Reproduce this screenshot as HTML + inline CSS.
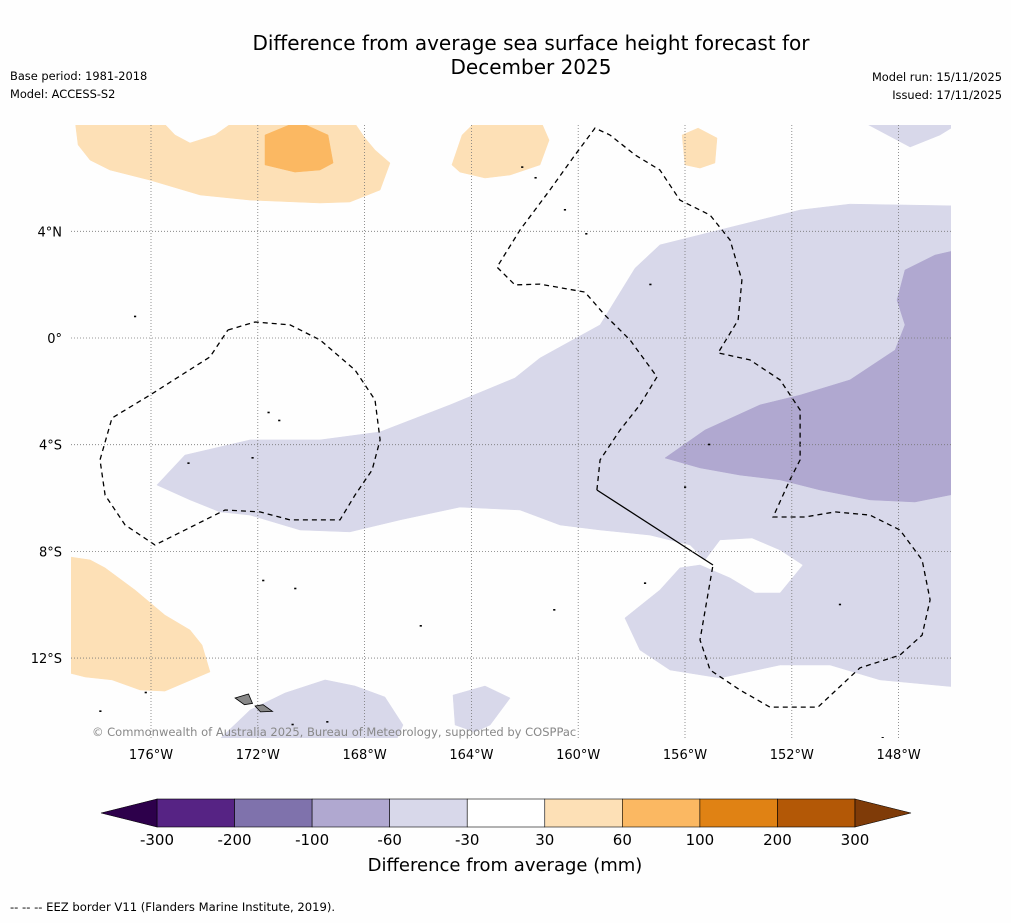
<!DOCTYPE html>
<html><head><meta charset="utf-8">
<style>
html,body{margin:0;padding:0;background:#fefefe;}
body{width:1011px;height:919px;overflow:hidden;font-family:"DejaVu Sans","Liberation Sans",sans-serif;}
svg text{font-family:"DejaVu Sans","Liberation Sans",sans-serif;}
</style></head>
<body>
<svg id="chart" width="1011" height="919" viewBox="0 0 1011 919" xmlns="http://www.w3.org/2000/svg">
<rect x="0" y="0" width="1011" height="919" fill="#fefefe"/>
<text x="531" y="50" font-size="20" text-anchor="middle" fill="#000">Difference from average sea surface height forecast for</text>
<text x="531" y="74" font-size="20" text-anchor="middle" fill="#000">December 2025</text>
<text x="10" y="80" font-size="11.4">Base period: 1981-2018</text>
<text x="10" y="98" font-size="11.4">Model: ACCESS-S2</text>
<text x="1002" y="81" font-size="11.4" text-anchor="end">Model run: 15/11/2025</text>
<text x="1002" y="99" font-size="11.4" text-anchor="end">Issued: 17/11/2025</text>
<defs><clipPath id="mapclip"><rect x="71" y="125" width="880" height="613"/></clipPath></defs>
<g id="map" clip-path="url(#mapclip)"></g>
<g id="axes"></g>
<g id="cbar"></g>
<text x="92" y="736" font-size="11.5" fill="#888">© Commonwealth of Australia 2025, Bureau of Meteorology, supported by COSPPac</text>
<text x="505" y="871" font-size="18" text-anchor="middle">Difference from average (mm)</text>
<text x="10" y="911" font-size="11.6">--  --  -- EEZ border V11 (Flanders Marine Institute, 2019).</text>
</svg>
<script>
// ---- data ----
const lonTicks = [-176,-172,-168,-164,-160,-156,-152,-148];
const lonLabels = ["176°W","172°W","168°W","164°W","160°W","156°W","152°W","148°W"];
const latTicks = [4,0,-4,-8,-12];
const latLabels = ["4°N","0°","4°S","8°S","12°S"];
const cbarLevels = [-300,-200,-100,-60,-30,30,60,100,200,300];
const cbarColors = ["#562384","#7f72ac","#b0a8d0","#d8d8ea","#ffffff","#fde0b6","#fbb862","#e08214","#b35806"];
const lowColor = "#2d004b", highColor = "#7f3b08";

const regionLight = [[-175.78,-5.51],[-174.73,-4.39],[-172.29,-3.82],[-169.67,-3.82],[-167.42,-3.52],[-164.80,-2.51],[-162.37,-1.50],[-161.43,-0.75],[-159.18,0.49],[-157.87,2.62],[-156.94,3.49],[-153.94,4.24],[-151.69,4.80],[-149.82,5.02],[-145.5,4.95],[-145.5,-13.12],[-148.70,-12.82],[-150.57,-12.26],[-152.44,-12.26],[-154.69,-12.75],[-156.56,-12.45],[-157.69,-11.70],[-158.25,-10.50],[-156.94,-9.45],[-156.19,-8.62],[-155.44,-8.51],[-154.31,-9.00],[-153.38,-9.56],[-152.44,-9.56],[-151.58,-8.51],[-152.44,-7.95],[-153.49,-7.50],[-154.69,-7.57],[-155.25,-8.32],[-155.81,-7.76],[-157.31,-7.39],[-159.18,-7.20],[-160.68,-7.01],[-162.18,-6.45],[-164.43,-6.34],[-166.67,-6.82],[-168.55,-7.27],[-170.42,-7.20],[-172.29,-6.64],[-173.42,-6.52],[-174.54,-6.07]];
const regionMid = [[-156.75,-4.50],[-155.25,-3.45],[-153.19,-2.51],[-151.69,-2.14],[-149.82,-1.57],[-148.13,-0.45],[-147.76,0.49],[-148.06,1.42],[-147.76,2.55],[-146.64,3.11],[-145.5,3.37],[-145.5,-5.77],[-147.39,-6.15],[-149.07,-6.07],[-150.94,-5.70],[-152.44,-5.32],[-153.94,-5.14],[-155.44,-4.87]];
const regionNE = [[-149.52,8.2],[-147.57,7.16],[-146.45,7.61],[-145.5,8.2]];
const regionS1 = [[-173.60,-15.2],[-172.29,-13.95],[-170.98,-13.31],[-169.48,-12.82],[-168.36,-13.05],[-167.24,-13.46],[-166.56,-14.51],[-166.86,-15.2]];
const regionS2 = [[-164.69,-13.39],[-163.49,-13.05],[-162.55,-13.50],[-163.30,-14.51],[-163.87,-14.77],[-164.61,-14.51]];
const orangeNW = [[-178.85,8.2],[-178.73,7.24],[-178.28,6.67],[-177.54,6.30],[-176.04,5.92],[-174.16,5.36],[-172.29,5.17],[-169.67,5.06],[-168.55,5.10],[-167.42,5.55],[-167.05,6.56],[-167.61,7.05],[-167.99,7.50],[-168.47,8.2],[-172.78,8.2],[-173.60,7.61],[-174.54,7.31],[-175.10,7.61],[-175.66,8.2]];
const orangeDark = [[-171.73,7.61],[-170.79,8.0],[-170.23,8.0],[-169.37,7.61],[-169.18,6.56],[-169.67,6.30],[-170.61,6.22],[-171.73,6.49]];
const orangeN = [[-164.73,6.49],[-164.35,7.61],[-163.75,8.2],[-161.43,8.2],[-161.09,7.42],[-161.43,6.49],[-162.55,6.11],[-163.49,6.00],[-164.43,6.22]];
const orangeSmall = [[-156.11,7.61],[-155.51,7.87],[-154.80,7.50],[-154.88,6.56],[-155.44,6.37],[-156.00,6.49]];
const orangeSW = [[-179.5,-8.14],[-178.28,-8.32],[-177.72,-8.62],[-176.60,-9.45],[-175.48,-10.39],[-174.54,-10.95],[-174.09,-11.51],[-173.79,-12.52],[-175.48,-13.24],[-176.41,-13.20],[-177.46,-12.82],[-178.47,-12.71],[-179.5,-12.45]];
const eezWest = [[-173.12,0.30],[-172.10,0.60],[-170.79,0.49],[-169.67,-0.07],[-168.36,-1.20],[-167.61,-2.32],[-167.42,-3.82],[-167.72,-4.95],[-168.36,-5.89],[-168.92,-6.82],[-170.79,-6.82],[-171.92,-6.52],[-173.23,-6.45],[-175.85,-7.76],[-176.97,-7.01],[-177.72,-5.89],[-177.91,-4.57],[-177.46,-3.00],[-176.04,-2.14],[-173.79,-0.71],[-173.12,0.30]];
const eezCentral = [[-159.30,-5.70],[-159.18,-4.57],[-158.43,-3.45],[-157.69,-2.51],[-157.05,-1.46],[-158.06,-0.07],[-159.00,0.86],[-159.75,1.72],[-161.43,2.02],[-162.37,1.99],[-163.04,2.66],[-162.18,4.05],[-161.06,5.55],[-160.12,6.86],[-159.37,7.87],[-158.81,7.61],[-157.87,6.86],[-156.94,6.30],[-156.19,5.17],[-155.06,4.61],[-154.31,3.67],[-153.87,2.17],[-154.01,0.67],[-154.76,-0.56],[-153.57,-0.82],[-152.44,-1.57],[-151.69,-2.70],[-151.69,-4.57],[-152.07,-5.32],[-152.70,-6.71],[-151.51,-6.71],[-150.38,-6.52],[-149.07,-6.64],[-147.95,-7.20],[-147.12,-8.32],[-146.82,-9.82],[-147.12,-11.14],[-147.95,-11.89],[-149.45,-12.37],[-151.02,-13.84],[-152.82,-13.84],[-153.94,-13.20],[-155.06,-12.45],[-155.44,-11.32],[-154.95,-8.51]];
const eezSolid = [[-154.95,-8.51],[-159.30,-5.70]];
const islandA = [[-172.85,-13.5],[-172.35,-13.35],[-172.2,-13.7],[-172.5,-13.75]];
const islandB = [[-172.1,-13.8],[-171.8,-13.75],[-171.45,-14.0],[-171.9,-14.02]];
const islets = [[-157.3,2.0],[-159.7,3.9],[-171.6,-2.8],[-171.2,-3.1],[-172.2,-4.5],[-174.6,-4.7],[-155.1,-4.0],[-156.0,-5.6],[-157.5,-9.2],[-160.9,-10.2],[-165.9,-10.8],[-150.2,-10.0],[-171.8,-9.1],[-170.6,-9.4],[-177.9,-14.0],[-179.1,-14.5],[-176.2,-13.3],[-169.4,-14.4],[-170.7,-14.5],[-145.8,-14.6],[-148.6,-15.0],[-161.6,6.0],[-162.1,6.4],[-160.5,4.8],[-176.6,0.8]];

// ---- axis functions ----
function xOf(lon){ return 151 + (lon + 176) * 26.7; }
function yOf(lat){ return 338 - lat * 26.67; }
const NS = "http://www.w3.org/2000/svg";
function mk(tag, attrs, parent){ const e=document.createElementNS(NS,tag); for(const k in attrs) e.setAttribute(k,attrs[k]); parent.appendChild(e); return e; }
function pts(arr){ return arr.map(p=>xOf(p[0]).toFixed(1)+","+yOf(p[1]).toFixed(1)).join(" "); }

const map = document.getElementById("map");
function region(arr, fill, name){
  const e = mk("polygon",{points:pts(arr),fill:fill,stroke:fill,"stroke-width":0.5},map);
  
  
}
region(regionLight, cbarColors[3], "region-minus60-minus30");
region(regionNE, cbarColors[3], "region-ne-minus60-minus30");
region(regionS1, cbarColors[3], "region-s1-minus60-minus30");
region(regionS2, cbarColors[3], "region-s2-minus60-minus30");
region(regionMid, cbarColors[2], "region-minus100-minus60");
region(orangeNW, cbarColors[5], "region-nw-30-60");
region(orangeN, cbarColors[5], "region-n-30-60");
region(orangeSmall, cbarColors[5], "region-small-30-60");
region(orangeSW, cbarColors[5], "region-sw-30-60");
region(orangeDark, cbarColors[6], "region-60-100");

// grid
const axes = document.getElementById("axes");
lonTicks.forEach((lon,i)=>{
  const g = mk("line",{x1:xOf(lon),x2:xOf(lon),y1:125,y2:738,stroke:"#777","stroke-width":0.8,"stroke-dasharray":"1,2"},axes);
  
  
  const t = mk("text",{x:xOf(lon),y:759,"font-size":13,"text-anchor":"middle"},axes);
  t.textContent = lonLabels[i];
  
  
});
latTicks.forEach((lat,i)=>{
  const g = mk("line",{x1:71,x2:951,y1:yOf(lat),y2:yOf(lat),stroke:"#777","stroke-width":0.8,"stroke-dasharray":"1,2"},axes);
  
  
  const t = mk("text",{x:62,y:yOf(lat)+5,"font-size":13,"text-anchor":"end"},axes);
  t.textContent = latLabels[i];
  
  
});

// EEZ lines
const e1 = mk("polyline",{points:pts(eezWest),fill:"none",stroke:"#000","stroke-width":1.3,"stroke-dasharray":"5,4"},map);


const e2 = mk("polyline",{points:pts(eezCentral),fill:"none",stroke:"#000","stroke-width":1.3,"stroke-dasharray":"5,4"},map);


const e3 = mk("polyline",{points:pts(eezSolid),fill:"none",stroke:"#000","stroke-width":1.3},map);



// islands
[islandA, islandB].forEach(a=>{
  const e = mk("polygon",{points:pts(a),fill:"#888",stroke:"#000","stroke-width":0.8},map);
  
  
});
islets.forEach(p=>{
  const e = mk("rect",{x:xOf(p[0])-1,y:yOf(p[1])-1,width:2.2,height:1.6,fill:"#000"},map);
  
  
});

// colorbar
const cb = document.getElementById("cbar");
const cx0 = 157, cx1 = 855, cy0 = 799, cy1 = 827, n = cbarColors.length;
const w = (cx1-cx0)/n;
cbarColors.forEach((c,i)=>{
  const r = mk("rect",{x:cx0+i*w,y:cy0,width:w,height:cy1-cy0,fill:c,stroke:"#000","stroke-width":0.6},cb);
  
  
});
const tl = mk("polygon",{points:`${cx0},${cy0} 101,${(cy0+cy1)/2} ${cx0},${cy1}`,fill:lowColor,stroke:"#000","stroke-width":0.6},cb);


const tr = mk("polygon",{points:`${cx1},${cy0} 911,${(cy0+cy1)/2} ${cx1},${cy1}`,fill:highColor,stroke:"#000","stroke-width":0.6},cb);


cbarLevels.forEach((v,i)=>{
  const t = mk("text",{x:cx0+i*w,y:845,"font-size":15,"text-anchor":"middle"},cb);
  t.textContent = String(v);
  
  
});
</script>
</body></html>
